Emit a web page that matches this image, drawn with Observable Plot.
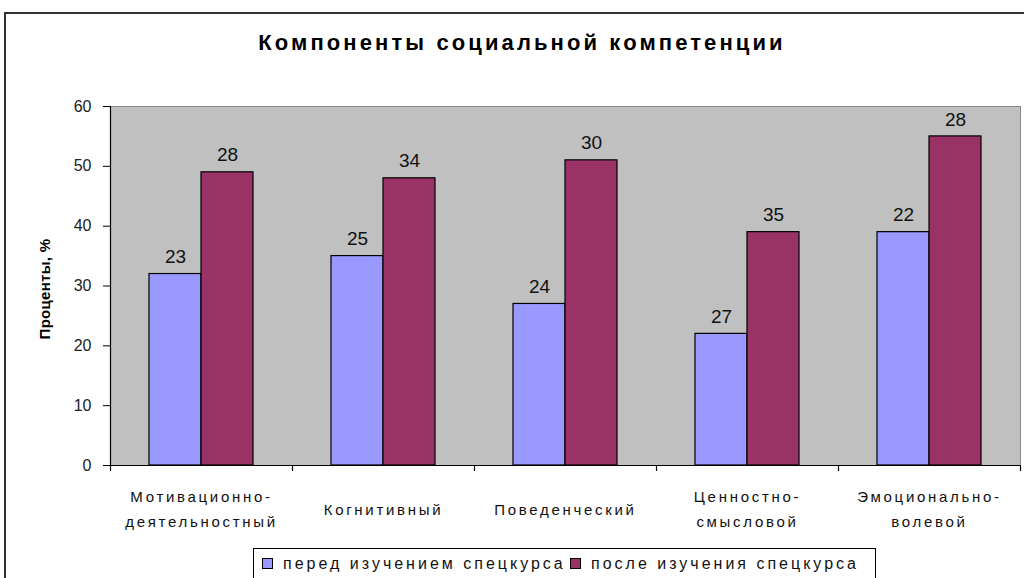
<!DOCTYPE html>
<html>
<head>
<meta charset="utf-8">
<script src="https://cdn.jsdelivr.net/npm/d3@7"></script>
<script src="https://cdn.jsdelivr.net/npm/@observablehq/plot@0.6"></script>
<style>
  html, body { margin: 0; padding: 0; background: #fff; }
  #wrap { position: relative; width: 1024px; height: 578px; overflow: hidden; font-family: "Liberation Sans", Arial, sans-serif; }
  #frame { position: absolute; left: 4px; top: 12px; width: 1200px; height: 800px; border-top: 2px solid #333; border-left: 2px solid #333; }
  #title { position: absolute; left: 0; width: 1044px; top: 30px; text-align: center; font-weight: bold; font-size: 22px; letter-spacing: 3.1px; color: #000; }
  #ylabel { position: absolute; left: 44px; top: 289px; transform: translate(-50%, -50%) rotate(-90deg); font-weight: bold; font-size: 15px; letter-spacing: 0.3px; white-space: nowrap; color: #000; }
  #chart { position: absolute; left: 0; top: 0; }
  #legend { position: absolute; left: 253px; top: 548px; width: 621px; height: 50px; border: 1px solid #000; background: #fff; font-size: 16px; letter-spacing: 3px; color: #111; }
  .item { position: absolute; top: 6px; white-space: nowrap; }
  .sw { display: inline-block; width: 9px; height: 9px; border: 1px solid #000; margin-right: 10px; vertical-align: 0px; }
  #chart svg g[aria-label="text"].cat text { letter-spacing: 2.7px; }
</style>
</head>
<body>
<div id="wrap">
  <div id="frame"></div>
  <div id="chart"></div>
  <div id="title">Компоненты социальной компетенции</div>
  <div id="ylabel">Проценты, %</div>
  <div id="legend"></div>
</div>
<script>
const categories = ["Мотивационно-деятельностный", "Когнитивный", "Поведенческий", "Ценностно-смысловой", "Эмоционально-волевой"];
const tickLabels = ["Мотивационно-\nдеятельностный", "Когнитивный", "Поведенческий", "Ценностно-\nсмысловой", "Эмоционально-\nволевой"];
const seriesNames = ["перед изучением спецкурса", "после изучения спецкурса"];
const seriesColors = ["#9999ff", "#993366"];
const beforeValues = [32, 35, 27, 22, 39];
const afterValues = [49, 48, 51, 39, 55];
const beforeLabels = [23, 25, 24, 27, 22];
const afterLabels = [28, 34, 30, 35, 28];
const yTicks = [0, 10, 20, 30, 40, 50, 60];

const before = categories.map((c, i) => ({cat: c, v: beforeValues[i], lab: beforeLabels[i]}));
const after = categories.map((c, i) => ({cat: c, v: afterValues[i], lab: afterLabels[i]}));
const catRows = categories.map((c, i) => ({cat: c, t: tickLabels[i]}));

const chart = Plot.plot({
  width: 1024,
  height: 578,
  marginLeft: 110,
  marginRight: 4,
  marginTop: 106,
  marginBottom: 113,
  style: {fontFamily: "'Liberation Sans', Arial, sans-serif", background: "transparent"},
  x: {domain: categories, padding: 0, axis: null},
  y: {domain: [0, 60], axis: null},
  marks: [
    Plot.frame({fill: "#c0c0c0", stroke: "#8a8a8a"}),
    Plot.barY(before, {x: "cat", y: "v", fill: seriesColors[0], stroke: "#000", strokeWidth: 1.2, insetLeft: 65, insetRight: 65, dx: -26}),
    Plot.barY(after, {x: "cat", y: "v", fill: seriesColors[1], stroke: "#000", strokeWidth: 1.2, insetLeft: 65, insetRight: 65, dx: 26}),
    Plot.text(before, {x: "cat", y: "v", text: "lab", dx: -26, dy: -17, fontSize: 19, fill: "#111"}),
    Plot.text(after, {x: "cat", y: "v", text: "lab", dx: 26, dy: -17, fontSize: 19, fill: "#111"}),
    Plot.ruleY([0], {stroke: "#000", strokeWidth: 1.2}),
    Plot.ruleX([categories[0]], {dx: -91, y1: 0, y2: 60, stroke: "#000", strokeWidth: 1.2}),
    Plot.ruleX(categories, {dx: -91, y1: 0, y2: -1, stroke: "#000", strokeWidth: 1.2}),
    Plot.ruleX([categories[categories.length - 1]], {dx: 91, y1: 0, y2: -1, stroke: "#000", strokeWidth: 1.2}),
    Plot.axisY({ticks: yTicks, tickSize: 7, tickPadding: 12, fontSize: 16, tickFormat: d => d, stroke: "#000", fill: "#222", label: null}),
    Plot.text(catRows, {x: "cat", y: 0, text: "t", dy: 41, lineAnchor: "middle", lineHeight: 1.7, fontSize: 15, fill: "#111", className: "cat"})
  ]
});
document.getElementById("chart").appendChild(chart);

const legend = document.getElementById("legend");
const lx = [8, 316];
seriesNames.forEach((n, i) => {
  const d = document.createElement("div");
  d.className = "item";
  d.style.left = lx[i] + "px";
  d.innerHTML = `<span class="sw" style="background:${seriesColors[i]}"></span>${n}`;
  legend.appendChild(d);
});
</script>
</body>
</html>
